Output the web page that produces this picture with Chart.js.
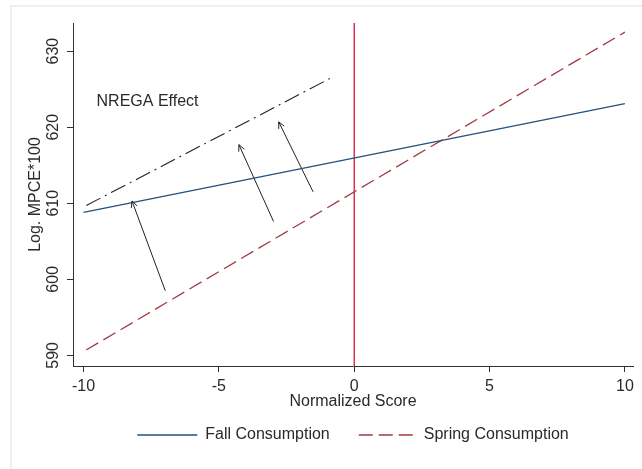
<!doctype html>
<html lang="en">
<head>
<meta charset="utf-8">
<title>NREGA Effect - Log MPCE</title>
<script src="https://cdn.jsdelivr.net/npm/chart.js"></script>
<style>
  html, body { margin: 0; padding: 0; background: #fff; overflow: hidden; }
  #frame { position: absolute; left: 10px; top: 5px; width: 700px; height: 500px;
           border-left: 2px solid #e9f1f5; border-top: 2px solid #e9f1f5; }
  #chart { position: absolute; left: 0; top: 0; }
</style>
</head>
<body>
<div id="frame"></div>
<canvas id="chart" width="642" height="469"></canvas>
<script>
// données
const scoreEnds = [-10, 10];
const fallValues = [608.8, 623.1];
const springValues = [590.5, 632.5];
const nregaX = [-9.9, -0.9];
const nregaY = [609.7, 626.4];
// flèches : départ -> pointe
const arrowFromX = [-6.98, -2.98, -1.52];
const arrowFromY = [598.5, 607.6, 611.5];
const arrowToX = [-8.21, -4.26, -2.79];
const arrowToY = [610.3, 617.7, 620.7];
const xTicks = [-10, -5, 0, 5, 10];
const yTicks = [590, 600, 610, 620, 630];
const cutoff = 0;
const noteText = 'NREGA Effect';
const noteX = -9.52, noteY = 623.4;

const font = { family: "'Liberation Sans', Arial, sans-serif", size: 16 };
const ink = '#2a2a2a';

const pts = (xs, ys) => xs.map((x, i) => ({ x: x, y: ys[i] }));

const datasets = [
  { label: 'Fall Consumption', data: pts(scoreEnds, fallValues),
    borderColor: '#24507a', backgroundColor: 'transparent', borderWidth: 1.3 },
  // offset 17 : les tirets de la légende retombent au même endroit à l'aller et au retour
  { label: 'Spring Consumption', data: pts(scoreEnds, springValues),
    borderColor: '#a03c45', backgroundColor: 'transparent', borderWidth: 1.3,
    borderDash: [14, 6], borderDashOffset: 17 },
  { label: 'nrega', data: pts(nregaX, nregaY),
    borderColor: '#222', backgroundColor: 'transparent', borderWidth: 1.1, borderDash: [16, 5, 2, 5] }
];
arrowFromX.forEach((x, i) => {
  datasets.push({ label: 'arrow', isArrow: true,
    data: [{ x: x, y: arrowFromY[i] }, { x: arrowToX[i], y: arrowToY[i] }],
    borderColor: '#222', backgroundColor: 'transparent', borderWidth: 1 });
});

// ligne verticale, pointes des flèches et texte
const extras = {
  id: 'extras',
  beforeDatasetsDraw(chart) {
    const a = chart.chartArea, px = chart.scales.x.getPixelForValue(cutoff);
    const ctx = chart.ctx;
    ctx.save();
    ctx.strokeStyle = '#d6143f';
    ctx.lineWidth = 1.3;
    ctx.beginPath();
    ctx.moveTo(px, a.top);
    ctx.lineTo(px, a.bottom);
    ctx.stroke();
    ctx.restore();
  },
  afterDatasetsDraw(chart) {
    const ctx = chart.ctx;
    ctx.save();
    chart.data.datasets.forEach((ds, i) => {
      if (!ds.isArrow) return;
      const m = chart.getDatasetMeta(i).data;
      const p0 = m[0], p1 = m[1];
      const ang = Math.atan2(p1.y - p0.y, p1.x - p0.x);
      const len = 7, spread = 0.45;
      ctx.strokeStyle = '#222';
      ctx.lineWidth = 1;
      ctx.beginPath();
      ctx.moveTo(p1.x - len * Math.cos(ang - spread), p1.y - len * Math.sin(ang - spread));
      ctx.lineTo(p1.x, p1.y);
      ctx.lineTo(p1.x - len * Math.cos(ang + spread), p1.y - len * Math.sin(ang + spread));
      ctx.stroke();
    });
    ctx.fillStyle = ink;
    ctx.font = font.size + 'px ' + font.family;
    ctx.textAlign = 'left';
    ctx.textBaseline = 'middle';
    ctx.fillText(noteText, chart.scales.x.getPixelForValue(noteX), chart.scales.y.getPixelForValue(noteY));
    ctx.restore();
  }
};

new Chart(document.getElementById('chart'), {
  type: 'scatter',
  data: { datasets: datasets },
  options: {
    responsive: false,
    animation: false,
    devicePixelRatio: 1,
    showLine: true,
    elements: { point: { radius: 0, hoverRadius: 0 }, line: { tension: 0 } },
    layout: { padding: { left: 0, top: 23, right: 9, bottom: 16 } },
    scales: {
      x: {
        type: 'linear', min: -10.39, max: 10.3,
        afterBuildTicks: s => { s.ticks = xTicks.map(v => ({ value: v })); },
        afterFit: s => { s.height = 35; },
        grid: { drawOnChartArea: false, drawTicks: true, tickLength: 6, color: '#333' },
        border: { color: '#333', width: 1 },
        ticks: { color: ink, font: font, padding: 5, maxRotation: 0 },
        title: { display: true, text: 'Normalized Score', color: ink, font: font,
                 padding: { top: 0, bottom: -10.4 } }
      },
      y: {
        type: 'linear', min: 588.6, max: 633.7,
        afterBuildTicks: s => { s.ticks = yTicks.map(v => ({ value: v })); },
        afterFit: s => { s.width = 73; },
        grid: { drawOnChartArea: false, drawTicks: true, tickLength: 6, color: '#333' },
        border: { color: '#333', width: 1 },
        ticks: { color: ink, font: font, padding: 0, minRotation: 90, maxRotation: 90, crossAlign: 'center' },
        title: { display: true, text: 'Log. MPCE*100', color: ink, font: font,
                 padding: { top: 26.4, bottom: 0 } }
      }
    },
    plugins: {
      legend: {
        position: 'bottom',
        fullSize: false,
        labels: {
          color: ink, font: font, boxWidth: 60, boxHeight: 0, padding: 26,
          filter: item => item.text === 'Fall Consumption' || item.text === 'Spring Consumption'
        }
      },
      tooltip: { enabled: false }
    }
  },
  plugins: [extras]
});
</script>
</body>
</html>
